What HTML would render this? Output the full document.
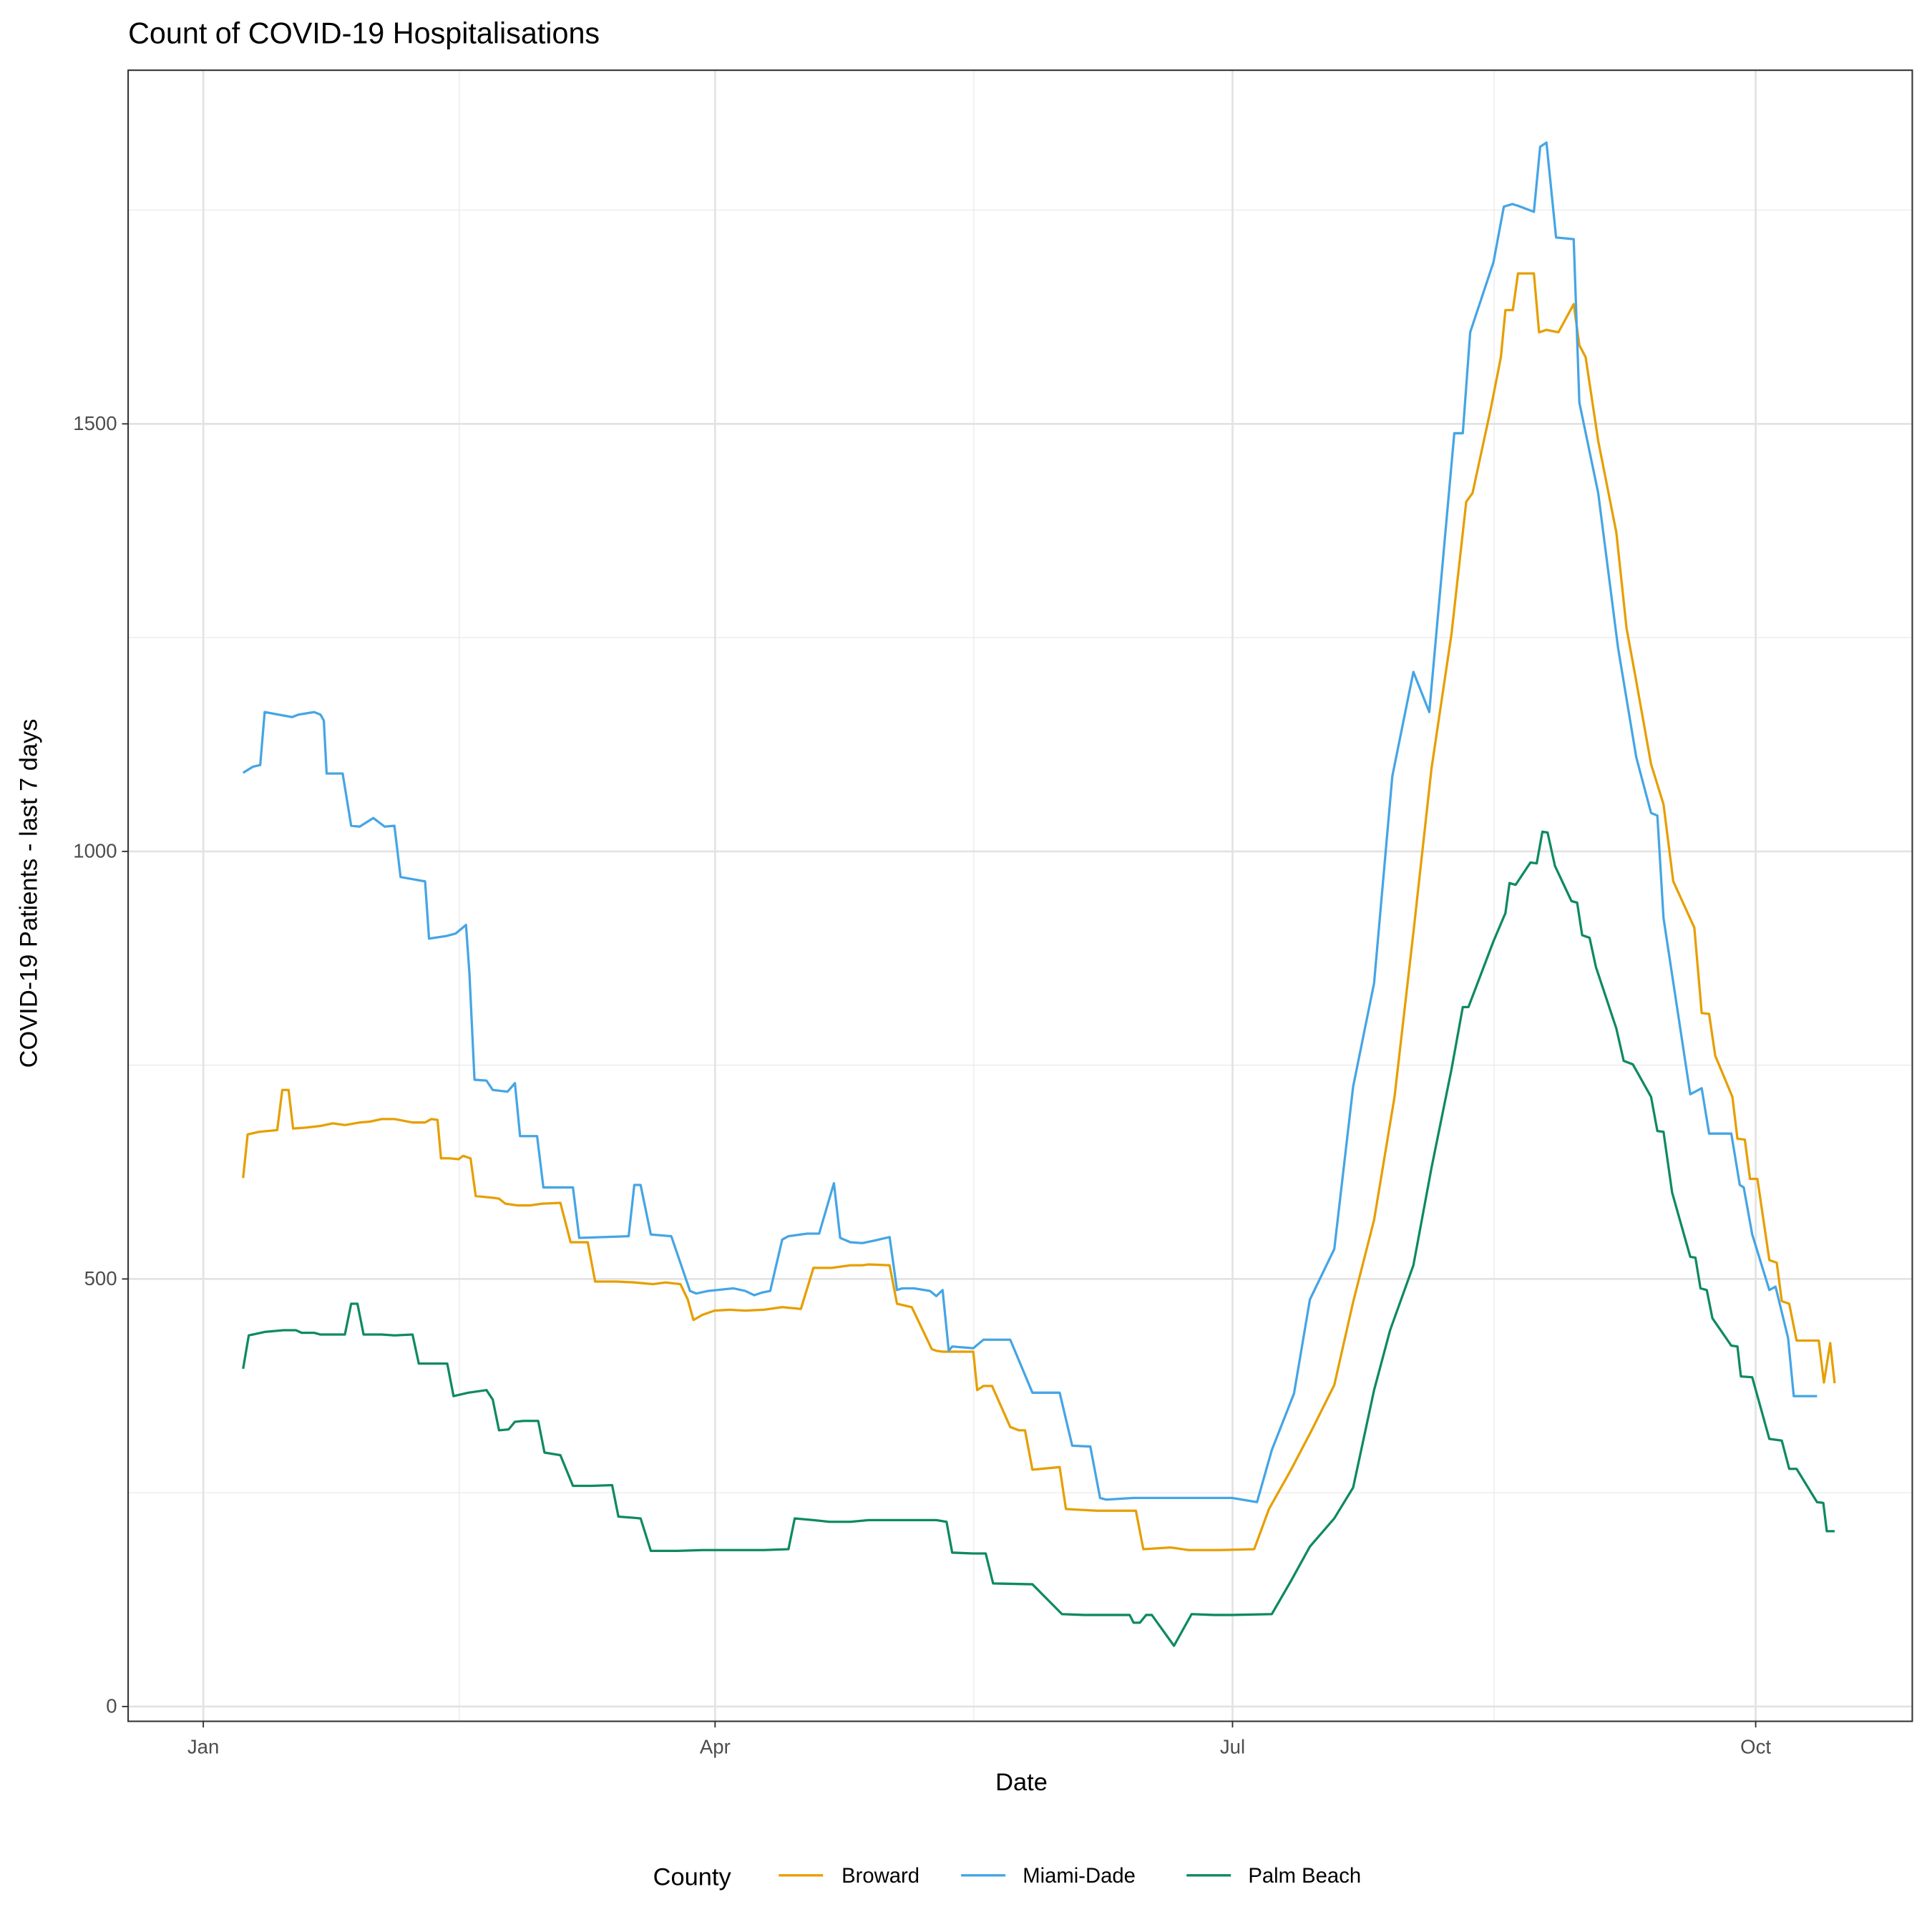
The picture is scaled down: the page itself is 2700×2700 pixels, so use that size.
<!DOCTYPE html>
<html><head><meta charset="utf-8"><style>
html,body{margin:0;padding:0;background:#fff;}
svg{display:block;font-family:"Liberation Sans",sans-serif;}
</style></head><body>
<svg id="chart" width="2700" height="2700" viewBox="0 0 1568 1568" xmlns="http://www.w3.org/2000/svg">
<rect x="0" y="0" width="1568" height="1568" fill="#fff"/>
<text x="104" y="35" font-size="24" fill="#000">Count of COVID-19 Hospitalisations</text>
<g id="grid"></g>
<g id="series"></g>
<rect x="104" y="57" width="1448" height="1340" fill="none" stroke="#333" stroke-width="1.2"/>
<g id="axes"></g>
<text x="829" y="1453" font-size="20" text-anchor="middle">Date</text>
<text transform="translate(30,725) rotate(-90)" font-size="20" text-anchor="middle">COVID-19 Patients - last 7 days</text>
<g>
<text x="530" y="1530" font-size="20">County</text>
<line x1="632" y1="1522" x2="668" y2="1522" stroke="#E69F00" stroke-width="2"/>
<text x="683" y="1528" font-size="17">Broward</text>
<line x1="780" y1="1522" x2="816" y2="1522" stroke="#45A5E5" stroke-width="2"/>
<text x="830" y="1528" font-size="17">Miami-Dade</text>
<line x1="963" y1="1522" x2="999" y2="1522" stroke="#0E8A60" stroke-width="2"/>
<text x="1013" y="1528" font-size="17">Palm Beach</text>
</g>
</svg>
<script>
const yTicks=[0,500,1000,1500];
const yMinor=[250,750,1250,1750];
const xTickDays=[0,90,181,273];
const xTickLabels=["Jan","Apr","Jul","Oct"];
const xMinorDays=[45,135.5,227];
const miamiDays=[7,8.7,10,10.8,15.6,16.7,19.5,20.6,21.2,21.7,24.5,26,27.5,29.9,31.9,33.6,34.7,39,39.7,42.7,44.4,46.2,46.8,47.7,49.8,50.9,53.5,54.8,55.7,58.7,59.8,65,66.1,74.8,75.8,76.9,78.7,82.3,85.6,86.7,88.8,93.2,95.3,96.9,98.2,99.7,101.8,102.9,106.2,108.3,110.9,112,113.8,115.9,118.1,120.7,122,122.9,125,127.8,128.9,130,131.1,131.7,135.4,137.2,138.7,141.9,145.8,150.6,152.8,156,157.7,158.8,163.6,172.3,180.9,185.3,187.9,191.8,194.6,198.9,202.2,205.9,209.1,212.8,215.6,220,221.5,222.8,226.9,228.7,230.2,231.2,234,235.1,236.2,237.9,241,242,245.3,248.8,252,254.6,255.7,256.8,258.5,261.5,263.5,264.8,268.7,270.2,270.9,272.4,275.4,276.5,278.7,279.7,283.8,286.9];
const miamiVals=[1092,1099,1101,1163,1157,1160,1163,1160,1153,1091,1091,1030,1029,1039,1029,1030,970,965,898,901,904,914,857,733,732,721,719,729,667,667,607,607,548,550,610,610,552,550,486,483,486,489,486,481,484,486,546,550,553,553,612,548,543,542,545,549,487,489,489,486,480,487,416,421,419,429,429,429,367,367,305,304,244,242,244,244,244,239,300,366,476,535,725,846,1088,1210,1163,1489,1489,1607,1689,1754,1757,1755,1748,1824,1829,1718,1716,1525,1419,1238,1110,1045,1042,922,847,716,723,670,670,610,607,552,487,491,431,363,363];
const browardDays=[7,7.8,9.8,11.3,13,13.9,15,15.8,18,20.6,22.8,24.9,27.5,29.3,31.4,33.6,36.8,39,40.1,41.2,41.8,43.3,44.9,45.7,47,47.9,50.9,52,53.1,55.3,57.4,59.6,62.8,64.6,67.6,68.9,72.6,75.8,79.1,81.3,83.9,85.2,86.2,87.8,89.9,92.5,95.3,98.6,101.8,105.1,107.3,110.5,113.8,115.9,117,120.7,122,124.6,128.1,128.9,130,135.4,136.1,137.2,138.7,141.9,143.4,144.5,145.8,150.6,151.7,157.1,164,165.3,170.1,173.3,178.8,184.8,187.4,191.3,195,198.9,202.2,205.9,209.5,212.8,216,219.5,222.1,223.2,226.4,228.2,229,230.3,231.2,234,234.9,236.2,238.3,241,242,243.1,245.3,248.5,250.3,251.8,254.6,256.8,258.5,262.2,263.5,264.8,265.9,268.9,269.8,271.1,272,273.3,275.4,276.7,277.6,278.9,280.2,284.1,285,286.1,286.9];
const browardVals=[618,669,672,673,674,721,721,676,677,679,682,680,683,684,687,687,683,683,687,686,641,641,640,644,641,597,595,594,588,586,586,588,589,543,543,497,497,496,494,496,494,476,452,458,463,464,463,464,467,465,513,513,516,516,517,516,471,467,418,416,415,415,370,375,375,327,323,323,277,280,231,229,229,184,186,183,183,184,231,277,324,376,473,569,713,905,1097,1254,1409,1419,1517,1578,1633,1633,1676,1676,1607,1610,1607,1640,1592,1578,1480,1373,1261,1206,1102,1055,965,911,811,810,761,713,664,663,617,617,522,519,474,471,428,428,379,425,378];
const palmDays=[7,8,10.8,14.1,16.3,17.3,19.5,20.6,24.9,26,27.1,28.2,31.4,33.6,36.8,37.9,41.2,42.9,44,46.6,49.8,50.9,52,53.7,54.8,56.3,58.9,60,62.8,65,68.3,71.9,73,76.9,78.7,83.4,87.8,98.6,102.9,104,107.3,110.1,113.8,117,120.3,124.6,128.9,130.7,131.7,135.4,137.6,138.9,145.8,151,154.9,160.3,162.9,163.6,164.7,165.8,166.8,170.7,173.8,177.7,180.9,187.9,191.3,194.6,198.9,202.2,205.9,208.7,212.8,216,219.5,221.5,222.5,226.9,229,229.7,230.8,233.4,234.5,235.5,236.4,237.7,240.6,241.6,242.5,243.8,244.9,248.5,249.8,251.4,254.6,255.7,256.8,258.3,261.5,262.4,263.3,264.4,265.4,268.7,269.8,270.4,272.4,275.4,277.6,278.9,280.2,283.8,284.9,285.5,286.9];
const palmVals=[395,434,438,440,440,437,437,435,435,471,471,435,435,434,435,401,401,401,363,367,370,359,323,324,333,334,334,297,294,258,258,259,222,220,182,182,183,183,184,220,218,216,216,218,218,218,218,216,180,179,179,144,143,108,107,107,107,98,98,107,107,71,108,107,107,108,147,187,220,256,370,440,516,630,745,818,818,895,928,963,961,987,986,1023,1022,983,942,940,902,899,865,793,755,751,713,673,672,601,526,525,489,487,454,422,421,386,385,313,311,278,278,239,238,205,205];

const NS="http://www.w3.org/2000/svg";
const X0=104,X1=1552,Y0=57,Y1=1397;
function xScale(d){return 165+d*4.615;}
function yScale(v){return 1385-v*0.694;}
function mk(tag,attrs,parent){const e=document.createElementNS(NS,tag);for(const k in attrs)e.setAttribute(k,attrs[k]);parent.appendChild(e);return e;}
const grid=document.getElementById('grid'),axes=document.getElementById('axes'),series=document.getElementById('series');
yMinor.forEach(v=>{const l=mk('line',{x1:X0,x2:X1,y1:yScale(v),y2:yScale(v),stroke:'#ebebeb','stroke-width':0.8},grid);

});
xMinorDays.forEach(d=>{const l=mk('line',{x1:xScale(d),x2:xScale(d),y1:Y0,y2:Y1,stroke:'#ebebeb','stroke-width':0.8},grid);

});
yTicks.forEach(v=>{const y=yScale(v);
const l=mk('line',{x1:X0,x2:X1,y1:y,y2:y,stroke:'#e3e3e3','stroke-width':1.6},grid);


const t=mk('line',{x1:X0-5,x2:X0,y1:y,y2:y,stroke:'#333','stroke-width':1.1},axes);


const tx=mk('text',{x:X0-9,y:y+5,'font-size':16,'text-anchor':'end',fill:'#4d4d4d'},axes);tx.textContent=v;

});
xTickDays.forEach((d,i)=>{const x=xScale(d);
const l=mk('line',{x1:x,x2:x,y1:Y0,y2:Y1,stroke:'#e3e3e3','stroke-width':1.6},grid);


const t=mk('line',{x1:x,x2:x,y1:Y1,y2:Y1+5,stroke:'#333','stroke-width':1.1},axes);


const tx=mk('text',{x:x,y:Y1+26,'font-size':16,'text-anchor':'middle',fill:'#4d4d4d'},axes);tx.textContent=xTickLabels[i];

});
function drawLine(days,vals,color,name){
const d=days.map((dd,i)=>(i?'L':'M')+xScale(dd).toFixed(1)+','+yScale(vals[i]).toFixed(1)).join('');
const p=mk('path',{d:d,fill:'none',stroke:color,'stroke-width':1.9,'stroke-linejoin':'round'},series);

}
drawLine(browardDays,browardVals,'#E69F00','broward-line');
drawLine(miamiDays,miamiVals,'#45A5E5','miami-dade-line');
drawLine(palmDays,palmVals,'#0E8A60','palm-beach-line');
</script>
</body></html>
